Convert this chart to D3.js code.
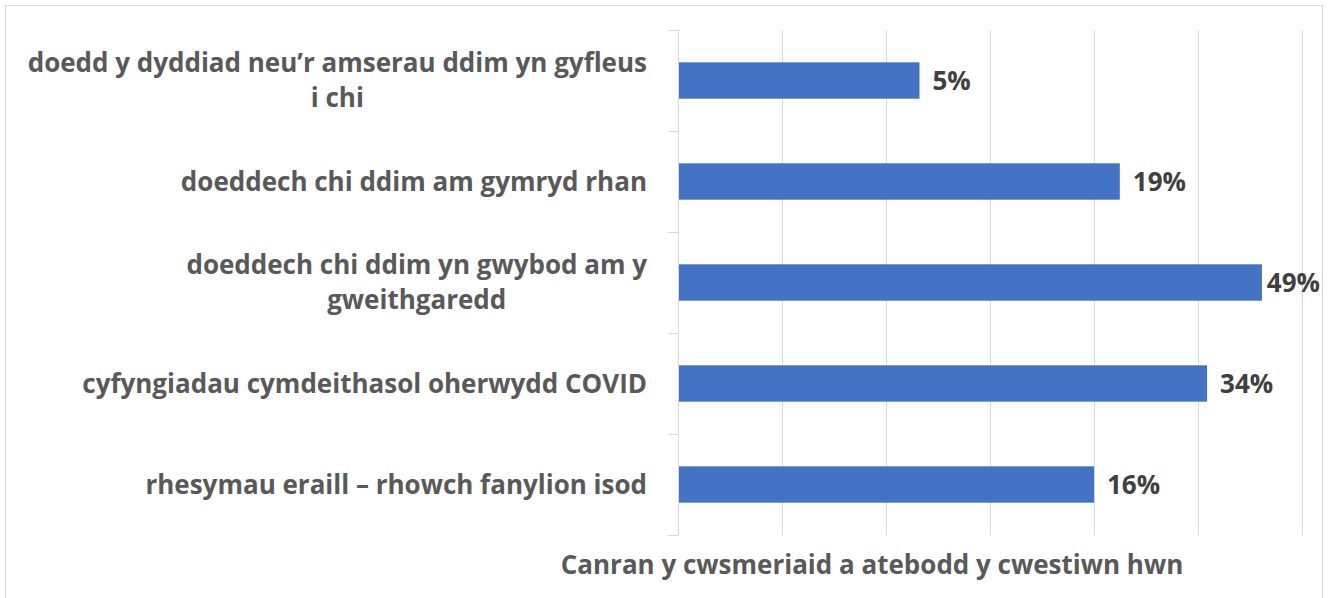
<!DOCTYPE html>
<html>
<head>
<meta charset="utf-8">
<script src="https://cdn.jsdelivr.net/npm/d3@7"></script>
<style>
  body { margin: 0; background: #fff; }
  text { font-family: "Open Sans", Lato, sans-serif; font-weight: bold; }
</style>
</head>
<body>
<div id="chart"></div>
<script>
// data
const categories = [
  ["doedd y dyddiad neu\u2019r amserau ddim yn gyfleus", "i chi"],
  ["doeddech chi ddim am gymryd rhan"],
  ["doeddech chi ddim yn gwybod am y", "gweithgaredd"],
  ["cyfyngiadau cymdeithasol oherwydd COVID"],
  ["rhesymau eraill \u2013 rhowch fanylion isod"]
];
const values = [5, 19, 49, 34, 16];
const valueLabels = ["5%", "19%", "49%", "34%", "16%"];
const gridTicks = [1, 2, 4, 8, 16, 32, 64];
const axisTitle = "Canran y cwsmeriaid a atebodd y cwestiwn hwn";

const width = 1330, height = 598;
const margin = {top: 30, left: 678, right: 28, bottom: 63};
const fontSize = "26px";

const svg = d3.select("#chart")
  .append("svg")
  .attr("width", width)
  .attr("height", height);

// outer border
svg.append("rect")
  .attr("x", 5.5).attr("y", 5.5)
  .attr("width", 1317).attr("height", 600)
  .attr("fill", "none")
  .attr("stroke", "#d9d9d9");

// excel log axis, base 2
const xScale = d3.scaleLog().base(2)
  .domain([1, 64])
  .range([margin.left, width - margin.right]);

const yScale = d3.scaleBand()
  .domain(d3.range(categories.length))
  .range([margin.top, height - margin.bottom])
  .paddingInner(0.64)
  .paddingOuter(0.32);

const plotBottom = height - margin.bottom;

// gridlines
svg.append("g")
  .selectAll("line")
  .data(gridTicks)
  .enter().append("line")
    .attr("x1", d => Math.round(xScale(d)) + 0.5)
    .attr("x2", d => Math.round(xScale(d)) + 0.5)
    .attr("y1", margin.top)
    .attr("y2", plotBottom)
    .attr("stroke", "#d9d9d9");

// category axis ticks (between bands)
const step = (plotBottom - margin.top) / categories.length;
svg.append("g")
  .selectAll("line")
  .data(d3.range(categories.length + 1))
  .enter().append("line")
    .attr("x1", margin.left - 10)
    .attr("x2", margin.left)
    .attr("y1", d => Math.round(margin.top + d * step) + 0.5)
    .attr("y2", d => Math.round(margin.top + d * step) + 0.5)
    .attr("stroke", "#d9d9d9");

// bars
svg.append("g")
  .selectAll("rect")
  .data(values)
  .enter().append("rect")
    .attr("x", margin.left + 1)
    .attr("y", (d, i) => yScale(i))
    .attr("width", d => xScale(d) - margin.left - 1)
    .attr("height", yScale.bandwidth())
    .attr("fill", "#4472c4");

// value labels
const vl = svg.append("g")
  .selectAll("text")
  .data(values)
  .enter().append("text")
    .attr("y", (d, i) => yScale(i) + yScale.bandwidth() / 2)
    .attr("dy", "0.36em")
    .attr("font-size", fontSize)
    .attr("fill", "#404040")
    .text((d, i) => valueLabels[i]);
vl.attr("x", function(d) {
  const w = this.getComputedTextLength();
  return Math.min(xScale(d) + 13, width - 10 - w);
});

// category labels, wrapped lines centred as a block, right aligned to the axis
const labelRight = 647;
const lineH = 35;
categories.forEach(function(lines, i) {
  const g = svg.append("g");
  const cy = yScale(i) + yScale.bandwidth() / 2;
  const texts = g.selectAll("text")
    .data(lines)
    .enter().append("text")
      .attr("font-size", fontSize)
      .attr("fill", "#595959")
      .attr("text-anchor", "middle")
      .attr("y", (d, j) => cy + (j - (lines.length - 1) / 2) * lineH)
      .attr("dy", "0.36em")
      .text(d => d);
  let maxW = 0;
  texts.each(function() { maxW = Math.max(maxW, this.getComputedTextLength()); });
  texts.attr("x", labelRight - maxW / 2);
});

// axis title
svg.append("text")
  .attr("x", 872)
  .attr("y", 565)
  .attr("dy", "0.36em")
  .attr("text-anchor", "middle")
  .attr("font-size", fontSize)
  .attr("fill", "#595959")
  .text(axisTitle);
</script>
</body>
</html>
